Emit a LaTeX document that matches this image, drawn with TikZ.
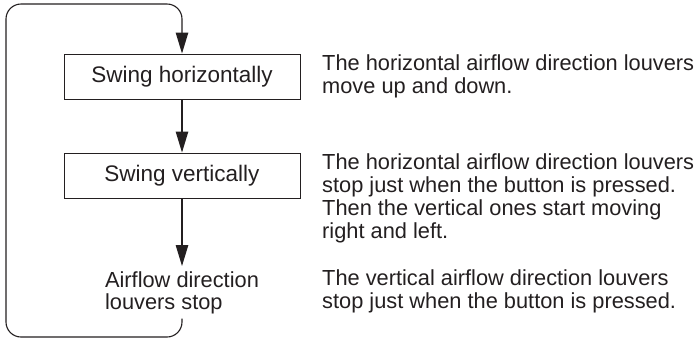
\documentclass[tikz,border=0pt]{standalone}
\usepackage{fontspec}
\setmainfont{Liberation Sans}
\usetikzlibrary{arrows.meta}
\definecolor{ink}{HTML}{231F20}
\tikzset{
  x=1pt, y=-1pt,
  stepbox/.style={draw=ink, line width=1pt, minimum width=236pt, minimum height=45pt,
    inner sep=0pt, text=ink, font=\fontsize{22.5}{24}\selectfont},
  note/.style={anchor=base west, align=left, inner sep=0pt, text=ink,
    font=\fontsize{21.8}{23}\selectfont},
  flow/.style={draw=ink, line width=1.1pt, -{Triangle[length=21pt,width=12.5pt]}},
}
\begin{document}
\begin{tikzpicture}
\useasboundingbox (0,0) rectangle (696,338);
\node[stepbox] (b1) at (182,76.5) {Swing horizontally};
\node[stepbox] (b2) at (182,175.5) {Swing vertically};
\node[anchor=north, align=left, inner xsep=0pt, inner ysep=5pt, text=ink,
  font=\fontsize{21.8}{22}\selectfont] (stop) at (182,266) {Airflow direction\\louvers stop};
\coordinate (bl) at (6,337);
\coordinate (tl) at (6,4);
\draw[flow] (b1) -- (b2);
\draw[flow] (b2) -- (stop);
\draw[flow, rounded corners=15pt] (stop.south) -- (stop.south |- bl) -- (bl) -- (tl) -- (tl -| b1) -- (b1.north);
% base anchor of a multi-line node is the baseline of its last line
\node[note] (t1) at (322,93) {The horizontal airflow direction louvers\\move up and down.};
\node[note] (t2) at (322,238) {The horizontal airflow direction louvers\\stop just when the button is pressed.\\Then the vertical ones start moving\\right and left.};
\node[note] (t3) at (322,308) {The vertical airflow direction louvers\\stop just when the button is pressed.};
\end{tikzpicture}
\end{document}
